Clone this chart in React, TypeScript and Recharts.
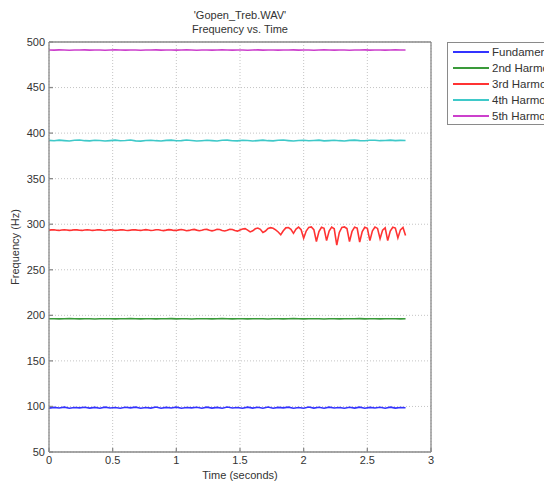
import React from 'react';
import { LineChart, Line, XAxis, YAxis, CartesianGrid } from 'recharts';

const TITLE_LINES = ["'Gopen_Treb.WAV'", 'Frequency vs. Time'];
const X_LABEL = 'Time (seconds)';
const Y_LABEL = 'Frequency (Hz)';
const SERIES_NAMES = ['Fundamental', '2nd Harmonic', '3rd Harmonic', '4th Harmonic', '5th Harmonic'];
const SERIES_COLORS = ['#3333ff', '#3a9a3a', '#ff3333', '#3fc9c9', '#cc40cc'];
const X_TICKS = [0, 0.5, 1, 1.5, 2, 2.5, 3];
const Y_TICKS = [50, 100, 150, 200, 250, 300, 350, 400, 450, 500];

// sampled every 0.04 s
const FUNDAMENTAL = [
  98.1, 99.0, 98.3, 99.2, 98.0, 98.9, 98.4, 99.1, 98.2, 99.0,
  98.1, 99.2, 98.3, 98.9, 98.0, 99.1, 98.4, 99.2, 98.1, 98.9,
  98.2, 99.3, 98.0, 99.0, 98.3, 99.2, 98.1, 98.8, 98.4, 99.1,
  98.0, 99.2, 98.2, 99.0, 98.1, 99.3, 98.3, 98.9, 98.0, 99.2,
  98.2, 99.1, 98.1, 99.3, 98.0, 99.0, 98.4, 99.2, 98.1, 98.9,
  98.0, 99.3, 98.2, 99.1, 98.1, 99.2, 98.3, 98.9, 98.0, 99.1,
  98.2, 99.2, 98.1, 99.0, 98.3, 99.1, 98.0, 99.2, 98.2, 98.9,
  98.6,
];
const SECOND = [
  196.2, 196.3, 196.1, 196.2, 196.4, 196.2, 196.1, 196.3, 196.2, 196.0,
  196.2, 196.3, 196.2, 196.1, 196.3, 196.2, 196.4, 196.2, 196.1, 196.2,
  196.3, 196.1, 196.2, 196.2, 196.4, 196.1, 196.2, 196.3, 196.0, 196.2,
  196.3, 196.2, 196.1, 196.2, 196.4, 196.2, 196.1, 196.3, 196.2, 196.1,
  196.2, 196.3, 196.2, 196.0, 196.2, 196.3, 196.1, 196.2, 196.4, 196.2,
  196.1, 196.3, 196.2, 196.2, 196.0, 196.3, 196.2, 196.1, 196.3, 196.2,
  196.2, 196.4, 196.1, 196.2, 196.3, 196.1, 196.2, 196.2, 196.3, 196.1,
  196.2,
];
const FOURTH = [
  392.0, 391.6, 392.3, 391.8, 391.4, 392.1, 392.4, 391.7, 391.5, 392.2,
  391.9, 391.3, 391.8, 392.3, 391.6, 391.9, 392.4, 391.5, 391.2, 391.9,
  392.2, 391.7, 391.4, 392.0, 392.3, 391.6, 391.8, 392.4, 391.9, 391.3,
  391.7, 392.2, 391.8, 391.4, 392.1, 392.3, 391.6, 391.5, 392.2, 391.9,
  391.4, 391.8, 392.3, 391.7, 391.5, 392.1, 392.4, 391.8, 391.3, 391.9,
  392.2, 391.6, 391.9, 392.3, 391.5, 391.8, 392.2, 391.7, 391.4, 392.0,
  392.3, 391.8, 391.6, 392.1, 392.2, 391.7, 391.9, 392.3, 391.8, 392.0,
  391.9,
];
const FIFTH = [
  491.3, 491.1, 491.4, 491.2, 491.0, 491.3, 491.2, 491.4, 491.1, 491.2,
  491.3, 491.0, 491.2, 491.4, 491.2, 491.1, 491.3, 491.2, 491.0, 491.3,
  491.2, 491.4, 491.1, 491.2, 491.3, 491.1, 491.2, 491.4, 491.2, 491.0,
  491.3, 491.2, 491.1, 491.3, 491.4, 491.2, 491.1, 491.2, 491.3, 491.0,
  491.2, 491.4, 491.1, 491.3, 491.2, 491.1, 491.3, 491.2, 491.4, 491.1,
  491.2, 491.3, 491.0, 491.2, 491.4, 491.2, 491.1, 491.3, 491.2, 491.0,
  491.3, 491.2, 491.4, 491.1, 491.2, 491.3, 491.1, 491.2, 491.4, 491.2,
  491.3,
];
// sampled every 0.02 s (the vibrato part needs the finer step)
const THIRD = [
  293.5, 293.8, 293.9, 293.4, 293.2, 293.6, 294.0, 293.7, 293.3, 293.5,
  293.9, 293.8, 293.3, 293.2, 293.7, 294.0, 293.6, 293.2, 293.4, 293.9,
  293.8, 293.3, 293.1, 293.6, 294.0, 293.7, 293.2, 293.3, 293.8, 293.9,
  293.4, 293.1, 293.5, 294.0, 293.8, 293.3, 293.2, 293.7, 294.1, 293.6,
  293.1, 293.3, 293.9, 294.0, 293.4, 293.0, 293.5, 294.1, 293.8, 293.2,
  293.2,
  293.8, 294.2, 293.6, 292.9, 293.2, 294.0, 294.3, 293.5, 292.8, 293.3,
  294.2, 294.3, 293.4, 292.7, 293.4, 294.4, 294.2, 293.2, 292.6, 293.5,
  294.5, 294.3, 293.0, 292.4, 293.6,
  294.8, 295.2, 293.6, 291.6, 292.8, 295.0, 295.8, 294.4, 291.0, 292.5,
  295.4, 296.2, 295.6, 293.8, 291.5,
  288.5, 292.8, 296.0, 296.4, 294.5, 290.0, 294.6, 296.8, 294.0, 284.6,
  292.5, 296.5, 297.0, 294.0, 281.0, 292.0, 296.6, 295.5, 282.0, 292.5,
  296.8, 295.0, 277.0, 291.0, 296.5, 297.0, 295.2, 281.0, 292.2, 296.8,
  295.8, 280.5, 292.0, 296.6, 295.5, 282.0, 292.8, 296.9, 295.4, 284.0,
  293.5, 296.0, 282.0, 292.5, 296.7, 295.8, 285.0, 293.8, 296.4, 287.5,
];

const toPoints = (vals: number[], step: number) =>
  vals.map((v, i) => ({ t: Math.round(i * step * 100) / 100, f: v }));

const SERIES_DATA = [
  toPoints(FUNDAMENTAL, 0.04),
  toPoints(SECOND, 0.04),
  toPoints(THIRD, 0.02),
  toPoints(FOURTH, 0.04),
  toPoints(FIFTH, 0.04),
];

const FONT = '"Liberation Sans", Arial, Helvetica, sans-serif';
const TEXT = '#333333';
const FRAME = '#8a8a8a';
const tickStyle = { fill: TEXT, fontSize: 11, fontFamily: FONT };

function YLabel() {
  return (
    <text x={15} y={247} transform="rotate(-90 15 247)" textAnchor="middle" dominantBaseline="central"
      fill={TEXT} fontSize={11} fontFamily={FONT}>
      {Y_LABEL}
    </text>
  );
}

export default function App() {
  return (
    <div style={{ position: 'absolute', left: 0, top: 0, width: 544, height: 484, overflow: 'hidden', background: '#fff', fontFamily: FONT }}>
      <div style={{ position: 'absolute', left: 140, width: 200, top: 8, textAlign: 'center', fontSize: 11, lineHeight: '14px', color: TEXT }}>
        {TITLE_LINES.map(l => <div key={l}>{l}</div>)}
      </div>
      <LineChart width={544} height={484} margin={{ top: 41, right: 112, bottom: 12, left: 9 }}>
        <CartesianGrid stroke="#c4c4c4" strokeDasharray="1 2" />
        <XAxis dataKey="t" type="number" domain={[0, 3]} ticks={X_TICKS} allowDataOverflow height={20}
          stroke={FRAME} strokeWidth={1.3} tickSize={-4} tickMargin={8} tick={tickStyle}
          label={{ value: X_LABEL, position: 'bottom', offset: -1, fill: TEXT, fontSize: 11, fontFamily: FONT }} />
        <XAxis xAxisId="top" orientation="top" type="number" domain={[0, 3]} ticks={X_TICKS} height={1}
          stroke={FRAME} strokeWidth={1.3} tickSize={-4} tickFormatter={() => ''} />
        <YAxis type="number" domain={[50, 500]} ticks={Y_TICKS} width={40}
          stroke={FRAME} strokeWidth={1.3} tickSize={-4} tickMargin={8} tick={tickStyle}
          label={{ content: () => <YLabel /> }} />
        <YAxis yAxisId="right" orientation="right" type="number" domain={[50, 500]} ticks={Y_TICKS} width={1}
          stroke={FRAME} strokeWidth={1.3} tickSize={-4} tickFormatter={() => ''} />
        {SERIES_NAMES.map((name, i) => (
          <Line key={name} name={name} data={SERIES_DATA[i]} dataKey="f" type="linear" stroke={SERIES_COLORS[i]}
            strokeWidth={1.6} dot={false} activeDot={false} isAnimationActive={false} />
        ))}
      </LineChart>
      <div style={{ position: 'absolute', left: 447, top: 42, width: 130, height: 83, border: `1px solid ${FRAME}`, background: '#fff', paddingTop: 1, boxSizing: 'border-box' }}>
        {SERIES_NAMES.map((name, i) => (
          <div key={name} style={{ display: 'flex', alignItems: 'center', height: 16, whiteSpace: 'nowrap' }}>
            <span style={{ display: 'inline-block', marginLeft: 5, width: 36, height: 2, background: SERIES_COLORS[i] }} />
            <span style={{ marginLeft: 3, fontSize: 11.5, color: TEXT }}>{name}</span>
          </div>
        ))}
      </div>
    </div>
  );
}
